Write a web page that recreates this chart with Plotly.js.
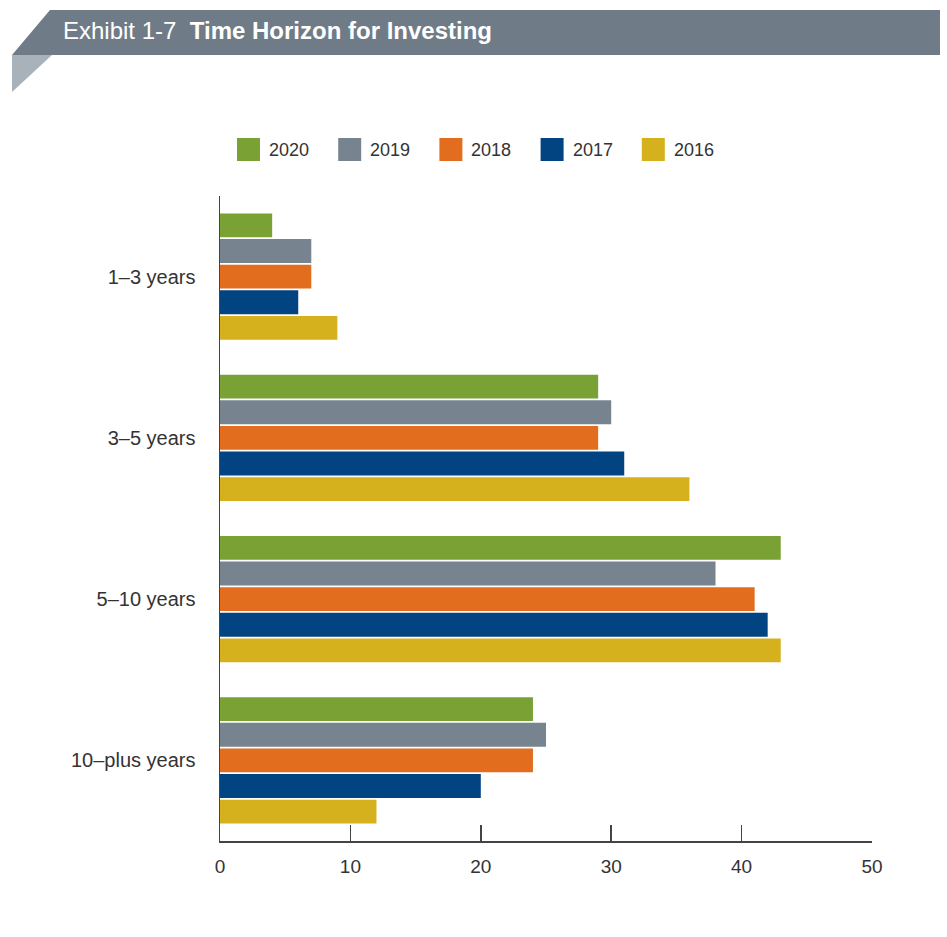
<!DOCTYPE html>
<html>
<head>
<meta charset="utf-8">
<script src="https://cdn.plot.ly/plotly-3.0.1.min.js"></script>
<style>html,body{margin:0;padding:0;background:#fff;}#chart{width:947px;height:937px;}</style>
</head>
<body>
<div id="chart"></div>
<script>
const categories = ['1–3 years', '3–5 years', '5–10 years', '10–plus years'];
const years = ['2020', '2019', '2018', '2017', '2016'];
const v2020 = [4, 29, 43, 24];
const v2019 = [7, 30, 38, 25];
const v2018 = [7, 29, 41, 24];
const v2017 = [6, 31, 42, 20];
const v2016 = [9, 36, 43, 12];
const xTicks = [0, 10, 20, 30, 40, 50];

const series = [v2020, v2019, v2018, v2017, v2016];
const colors = ['#79a133', '#77848f', '#e26d1f', '#024382', '#d4b11d'];

const W = 947, H = 937;
const M = {l: 220, r: 75, t: 196, b: 96};
const pw = W - M.l - M.r, ph = H - M.t - M.b;
const px = p => (p - M.l) / pw;
const py = p => (H - M.b - p) / ph;

const traces = years.map((yr, i) => ({
  type: 'bar',
  orientation: 'h',
  name: yr,
  y: categories,
  x: series[i],
  marker: {color: colors[i], line: {width: 0}},
  showlegend: false,
  hoverinfo: 'x+name'
}));

const shapes = [
  {type: 'path', xref: 'paper', yref: 'paper', layer: 'above',
   path: `M ${px(12)} ${py(55)} L ${px(50)} ${py(10)} L ${px(940)} ${py(10)} L ${px(940)} ${py(55)} Z`,
   fillcolor: '#6f7c87', line: {width: 0}},
  {type: 'path', xref: 'paper', yref: 'paper', layer: 'above',
   path: `M ${px(12)} ${py(55)} L ${px(52)} ${py(55)} L ${px(12)} ${py(92)} Z`,
   fillcolor: '#a8b2ba', line: {width: 0}}
];
const annotations = [];
years.forEach((yr, i) => {
  const x0 = 237 + 101.2 * i;
  shapes.push({type: 'rect', xref: 'paper', yref: 'paper',
    x0: px(x0), x1: px(x0 + 23), y0: py(161), y1: py(138),
    fillcolor: colors[i], line: {width: 0}});
  annotations.push({xref: 'paper', yref: 'paper', x: px(x0 + 30), y: py(150),
    xanchor: 'left', yanchor: 'middle', showarrow: false, text: yr,
    font: {family: 'Liberation Sans, Arial, sans-serif', size: 18, color: '#333'}});
});

const layout = {
  width: W, height: H,
  margin: M,
  paper_bgcolor: '#fff', plot_bgcolor: '#fff',
  barmode: 'group',
  bargap: 0.205,
  bargroupgap: 0.07,
  showlegend: false,
  title: {
    text: '<span style="font-weight:300">Exhibit 1-7</span>  <b>Time Horizon for Investing</b>',
    xref: 'container', yref: 'container',
    x: 63 / W, xanchor: 'left',
    y: 1 - 31 / H, yanchor: 'middle',
    font: {family: 'Liberation Sans, Arial, sans-serif', size: 24, color: '#ffffff'}
  },
  xaxis: {
    range: [0, 50],
    tickvals: xTicks,
    ticktext: xTicks.map(String),
    showgrid: false, zeroline: false,
    showline: true, linecolor: '#444', linewidth: 1.5,
    ticks: 'inside', ticklen: 16, tickwidth: 1.5, tickcolor: '#444',
    ticklabelstandoff: 8,
    tickfont: {family: 'Liberation Sans, Arial, sans-serif', size: 19, color: '#333'},
    fixedrange: true
  },
  yaxis: {
    type: 'category',
    categoryorder: 'array', categoryarray: categories,
    range: [3.5, -0.5],
    showgrid: false, zeroline: false,
    showline: true, linecolor: '#444', linewidth: 1.5,
    ticks: '',
    ticklabelstandoff: 19,
    tickfont: {family: 'Liberation Sans, Arial, sans-serif', size: 20, color: '#333'},
    fixedrange: true
  },
  shapes: shapes,
  annotations: annotations
};

Plotly.newPlot('chart', traces, layout, {displayModeBar: false, staticPlot: true});
</script>
</body>
</html>
